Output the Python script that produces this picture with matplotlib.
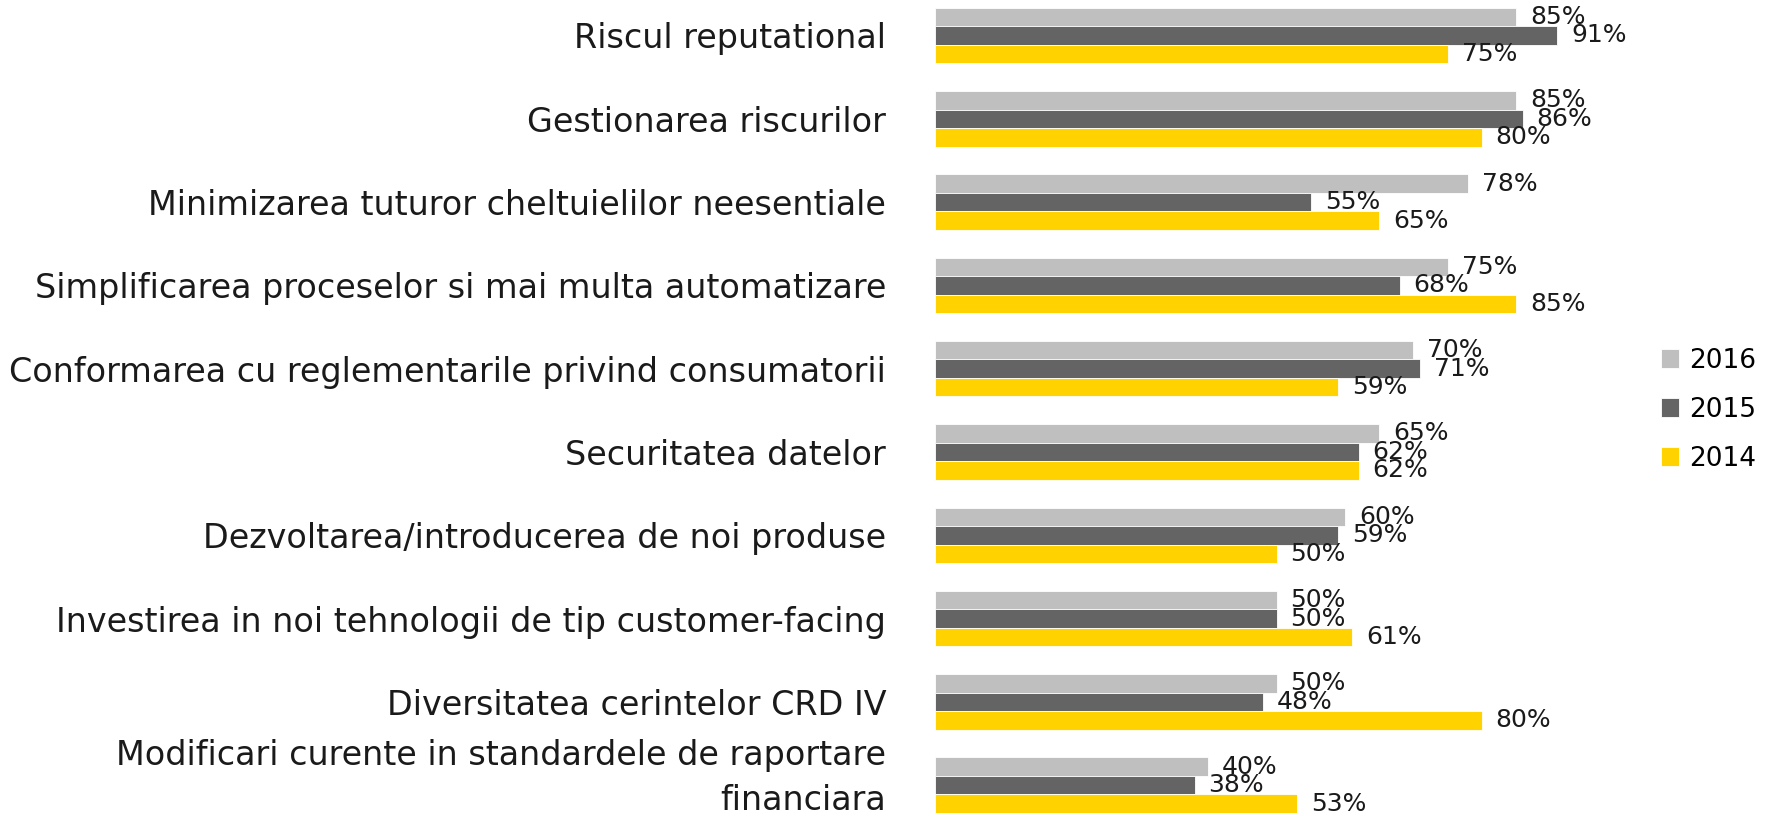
import matplotlib
matplotlib.use("Agg")
import matplotlib.pyplot as plt
import matplotlib.transforms as mtransforms
import numpy as np

categories = [
    "Riscul reputational",
    "Gestionarea riscurilor",
    "Minimizarea tuturor cheltuielilor neesentiale",
    "Simplificarea proceselor si mai multa automatizare",
    "Conformarea cu reglementarile privind consumatorii",
    "Securitatea datelor",
    "Dezvoltarea/introducerea de noi produse",
    "Investirea in noi tehnologii de tip customer-facing",
    "Diversitatea cerintelor CRD IV",
    "Modificari curente in standardele de raportare\nfinanciara",
]
years = ["2016", "2015", "2014"]
vals_2016 = [85, 85, 78, 75, 70, 65, 60, 50, 50, 40]
vals_2015 = [91, 86, 55, 68, 71, 62, 59, 50, 48, 38]
vals_2014 = [75, 80, 65, 85, 59, 62, 50, 61, 80, 53]
colors = ["#BFBFBF", "#646464", "#FFD200"]

fig = plt.figure(figsize=(17.67, 8.16), dpi=100)
ax = fig.add_axes([0.529, 0.0, 0.387, 1.0])

y = np.arange(len(categories))
h = 0.222
series = [vals_2016, vals_2015, vals_2014]
for i, (vals, col, yr) in enumerate(zip(series, colors, years)):
    bars = ax.barh(y + (i - 1) * h, vals, height=h, color=col, label=yr,
                   edgecolor="white", linewidth=0.6)
    ax.bar_label(bars, labels=[f"{v}%" for v in vals], padding=10,
                 fontsize=18, color="#1a1a1a")

ax.set_xlim(0, 100)
ax.set_ylim(9.37, -0.426)
ax.set_yticks(y)
ax.set_yticklabels(categories, fontsize=24, color="#1a1a1a",
                   ha="right", linespacing=1.45)
ax.tick_params(axis="y", length=0, pad=35)
ax.set_xticks([])
for s in ax.spines.values():
    s.set_visible(False)

# the two-line label sits a little higher than its group
last = ax.get_yticklabels()[-1]
last.set_transform(last.get_transform() +
                   mtransforms.ScaledTranslation(0, 12 / 72, fig.dpi_scale_trans))

fig.legend(loc="center left", bbox_to_anchor=(0.934, 0.498), frameon=False,
           fontsize=19, handlelength=0.7, handleheight=0.7,
           handletextpad=0.35, labelspacing=0.87, borderaxespad=0)

fig.savefig("out.png", dpi=100)
